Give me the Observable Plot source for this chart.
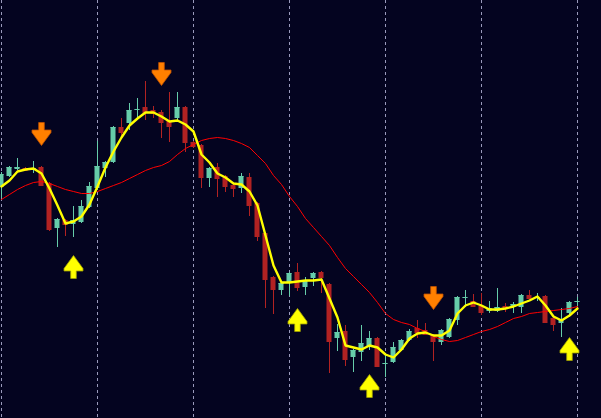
<!DOCTYPE html>
<html>
<head>
<meta charset="utf-8">
<script src="https://cdn.jsdelivr.net/npm/d3@7"></script>
<script src="https://cdn.jsdelivr.net/npm/@observablehq/plot@0.6"></script>
<style>
  html, body { margin: 0; padding: 0; background: #040420; }
  #chart { width: 601px; height: 418px; overflow: hidden; }
</style>
</head>
<body>
<div id="chart"></div>
<script>
// OHLC per bar (arbitrary price units)
const open  = [233,244,251,252,251,253,237,192,200,196,198,213,232,252,258,293,297,310.5,313,310,308,299,302,313,278,275,242,253,244,235,232,243,217,187,143,130,138,148,133,142,148,136,82,89,63,68,74,82,56.5,58,70,80,92,90,85,78,83,100,122.5,119,114,109,109,114,113,113,125,122.5,124,102,97,107,118.5];
const high  = [248,254,262,253,259,254,238,202,201,214,220,238,279,259,294,302,317,322,339,314,310,328,328,314,279,276,253,257,245,236,247,247,218,188,144,138,148,157,143,148,149,137,96,95,71,95,89,83,67,78,81,91,100,97,86,91,102,124,130,126,127,119,132,117,118,126,130,127,125,103,112,119,123];
const low   = [222,243,250,249,247,234,189,173,184,183,197,212,230,243,257,281,290,300,300,302,282,278,298,268,272,232,233,223,228,223,227,204,179,112,106,125,124,129,125,134,127,47,69,54,48,59,70,53,43,57,69,79,82,85,59,75,82,95,113,113,105,107,108,108,107,107,121,119,97,89,83,103,113];
const close = [246,253,253,250,252,235,191,201,196,200,214,234,254,258,293,288,310,311,308,307,298,294,313,278,274,243,252,242,234,232,244,215,184,141,131,137,147,133,140,147,143,79,88,61,70,77,82,54,57,73,80,89,88,86,79,90,101,123,123,114,108,112,113,112,116,125,122,123,98,96,101,118,119];

// Indicator lines, one value per bar
const fastMA = [234,240,249,251,252,247,232,215,197,199,204,216,234,253,269,283,295,302,308,308,304,299,300,296,289,266,258,247,243,237,236,229,215,185,155,138,138,139,140,140,141,122,103,75,73,71,75,73,66,63,71,82,87,88,85,85,90,107,115,118,115,111,111,112,114,117,120,124,115,104,100,105,112];
const slowMA = [221,226,231,235,238,239,237,234,231,229,227,227,229,232,235,238,242,246,250,253,255,259,266,272,276,280,282,283,282,280,277,273,265,257,245,236,224,214,202,193,184,175,163,152,144,136,128,118,107,101,98,96,92,89,84,81,79,80,83,86,89,91,94,98,102,104,107,108,109,110,111,112,114];

// Vertical session separators (bar index)
const gridIdx = [0,12,24,36,48,60,72];

// Signal arrows: bar index and price level of the arrow tip
const sellIdx = [5,20,54];
const sellLevel = [275,335,111];
const buyIdx = [9,37,46,71];
const buyLevel = [165,112,46,83];

const UP = "#66cdaa", DOWN = "#b22222";
const candles = open.map((o, i) => ({i, o, h: high[i], l: low[i], c: close[i]}));
const fastData = fastMA.map((v, i) => ({i, v}));
const slowData = slowMA.map((v, i) => ({i, v}));
const sells = sellIdx.map((i, j) => ({i, v: sellLevel[j]}));
const buys = buyIdx.map((i, j) => ({i, v: buyLevel[j]}));
const col = d => d.c >= d.o ? UP : DOWN;
const hw = 0.3125;

const downArrow = {draw(ctx) {
  ctx.moveTo(0, 0); ctx.lineTo(9.5, -13); ctx.lineTo(9.5, -15.5); ctx.lineTo(2.8, -15.5);
  ctx.lineTo(2.8, -23); ctx.lineTo(-2.8, -23); ctx.lineTo(-2.8, -15.5);
  ctx.lineTo(-9.5, -15.5); ctx.lineTo(-9.5, -13); ctx.closePath();
}};
const upArrow = {draw(ctx) {
  ctx.moveTo(0, 0); ctx.lineTo(9.5, 13); ctx.lineTo(9.5, 15.5); ctx.lineTo(2.8, 15.5);
  ctx.lineTo(2.8, 23); ctx.lineTo(-2.8, 23); ctx.lineTo(-2.8, 15.5);
  ctx.lineTo(-9.5, 15.5); ctx.lineTo(-9.5, 13); ctx.closePath();
}};

const chart = Plot.plot({
  width: 601,
  height: 418,
  margin: 0,
  style: {background: "#040420", overflow: "hidden"},
  x: {domain: [-0.125, 75], axis: null},
  y: {domain: [2, 420], axis: null},
  marks: [
    Plot.ruleX(gridIdx, {x: d => d, stroke: "#9a9abc", strokeWidth: 1, strokeDasharray: "3,3"}),
    Plot.ruleX(candles, {x: "i", y1: "l", y2: "h", stroke: col, strokeWidth: 1}),
    Plot.rect(candles, {x1: d => d.i - hw, x2: d => d.i + hw, y1: "o", y2: "c", fill: col}),
    Plot.ruleY(candles, {x1: d => d.i - hw, x2: d => d.i + hw, y: "c", stroke: col, strokeWidth: 1}),
    Plot.line(slowData, {x: "i", y: "v", stroke: "#ff0000", strokeWidth: 1}),
    Plot.line(fastData, {x: "i", y: "v", stroke: "#ffff00", strokeWidth: 2.4}),
    Plot.dot(sells, {x: "i", y: "v", symbol: downArrow, fill: "#ff8000", stroke: "#c05000", strokeWidth: 0.8}),
    Plot.dot(buys, {x: "i", y: "v", symbol: upArrow, fill: "#ffff00", stroke: "#a0a000", strokeWidth: 0.8})
  ]
});
document.getElementById("chart").appendChild(chart);
</script>
</body>
</html>
